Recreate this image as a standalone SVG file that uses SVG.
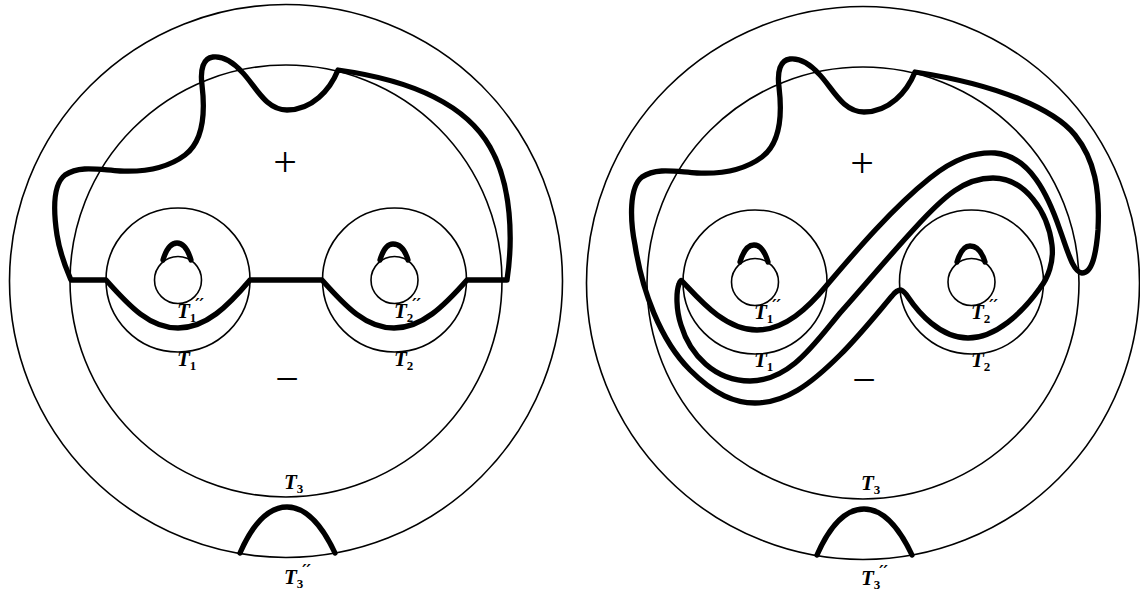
<svg xmlns="http://www.w3.org/2000/svg" width="1140" height="595" viewBox="0 0 1140 595">
<style>
.thin{fill:none;stroke:#000;stroke-width:1.6}
.thick{fill:none;stroke:#000;stroke-width:5.3;stroke-linejoin:round;stroke-linecap:round}
.lbl{font-family:"Liberation Serif",serif;font-style:italic;font-weight:bold;font-size:21px;fill:#000}
.sub{font-size:13px;font-style:normal}
.pr{font-family:"DejaVu Serif",serif;font-size:16px;font-weight:bold}
.sign{font-family:"Liberation Serif",serif;font-size:42px;fill:#000;text-anchor:middle}
</style>
<rect width="1140" height="595" fill="#fff"/>
<defs>
<g id="frame">
<circle class="thin" cx="286" cy="281" r="276.5"/>
<circle class="thin" cx="286" cy="281" r="216"/>
<circle class="thin" cx="178" cy="280" r="72"/>
<circle class="thin" cx="394.5" cy="280" r="72"/>
<circle class="thin" cx="178" cy="280" r="23.5"/>
<circle class="thin" cx="394.5" cy="280" r="23.5"/>
<path class="thick" d="M163,260 C166,250 170,243 177,243 C184,243 188,250 191,260"/>
<path class="thick" d="M380,260 C383,250 387,244 393,244 C400,244 405,250 408,260"/>
<path class="thick" d="M240,553 C254,521 270,507 287,507 C304,507 320,521 335,553"/>
</g>
</defs>
<g id="left-figure">
<use href="#frame"/>
<g id="left-labels">
<text class="sign" x="285" y="176">+</text>
<text class="sign" x="287" y="393">−</text>
<text class="lbl" x="177" y="318">T<tspan class="sub" dy="4">1</tspan><tspan class="pr" dx="-1" dy="-12">′′</tspan></text>
<text class="lbl" x="177" y="366">T<tspan class="sub" dy="4">1</tspan></text>
<text class="lbl" x="394" y="318">T<tspan class="sub" dy="4">2</tspan><tspan class="pr" dx="-1" dy="-12">′′</tspan></text>
<text class="lbl" x="394" y="366">T<tspan class="sub" dy="4">2</tspan></text>
<text class="lbl" x="284" y="489">T<tspan class="sub" dy="4">3</tspan></text>
<text class="lbl" x="284" y="584">T<tspan class="sub" dy="4">3</tspan><tspan class="pr" dx="-1" dy="-12">′′</tspan></text>
</g>
<path id="left-curve" class="thick" d="M71,280 L106,280 C130,307 150,328 178,328 C206,328 228,306 250,280 L322,280 C346,307 366,328 394,328 C422,328 444,306 467,280 L507,280 C513,240 512,185 490,147 C465,103 410,80 338,70 C330,90 312,110 287,110 C265,110 255,85 242,72 C232,61 222,56 213,57 C203,58 200,70 202,85 C205,110 205,140 185,155 C165,170 140,172 120,171 C100,170 80,165 65,175 C52,185 54,215 57,235 C60,255 66,268 71,280 Z"/>
</g>
<g id="right-figure">
<use href="#frame" transform="translate(577,2)"/>
<g id="right-labels" transform="translate(577,1)">
<text class="sign" x="285" y="176">+</text>
<text class="sign" x="287" y="393">−</text>
<text class="lbl" x="177" y="318">T<tspan class="sub" dy="4">1</tspan><tspan class="pr" dx="-1" dy="-12">′′</tspan></text>
<text class="lbl" x="177" y="366">T<tspan class="sub" dy="4">1</tspan></text>
<text class="lbl" x="394" y="318">T<tspan class="sub" dy="4">2</tspan><tspan class="pr" dx="-1" dy="-12">′′</tspan></text>
<text class="lbl" x="394" y="366">T<tspan class="sub" dy="4">2</tspan></text>
<text class="lbl" x="284" y="489">T<tspan class="sub" dy="4">3</tspan></text>
<text class="lbl" x="284" y="584">T<tspan class="sub" dy="4">3</tspan><tspan class="pr" dx="-1" dy="-12">′′</tspan></text>
</g>
<path id="right-curve" class="thick" d="M682,281 C700,300 725,330 757,330 C785,330 808,308 827,285 C850,258 890,210 930,178 C955,158 975,152 995,153 C1030,156 1048,195 1060,230 C1068,252 1073,272 1082,273 C1092,273 1096,255 1098,230 C1100,190 1095,160 1075,135 C1055,110 1000,85 915,72 C907,92 889,112 864,112 C842,112 832,87 819,74 C809,63 799,58 790,59 C780,60 777,72 779,87 C782,112 782,142 762,157 C742,172 717,174 697,173 C677,172 657,167 642,177 C629,187 630,220 635,245 C642,290 660,340 690,370 C715,395 735,403 755,403 C785,403 810,385 840,355 C860,335 880,310 892,296 C895,292 898,290 901,290 C904,291 906,294 908,297 C918,312 940,338 968,338 C996,338 1022,313 1040,288 C1048,278 1054,262 1052,245 C1048,212 1025,178 993,178 C965,178 945,195 915,228 C890,255 865,285 840,313 C815,343 790,381 750,381 C715,381 690,355 681,325 C676,310 676,292 679,284 C680,281 681,280 682,281 Z"/>
</g>
</svg>
